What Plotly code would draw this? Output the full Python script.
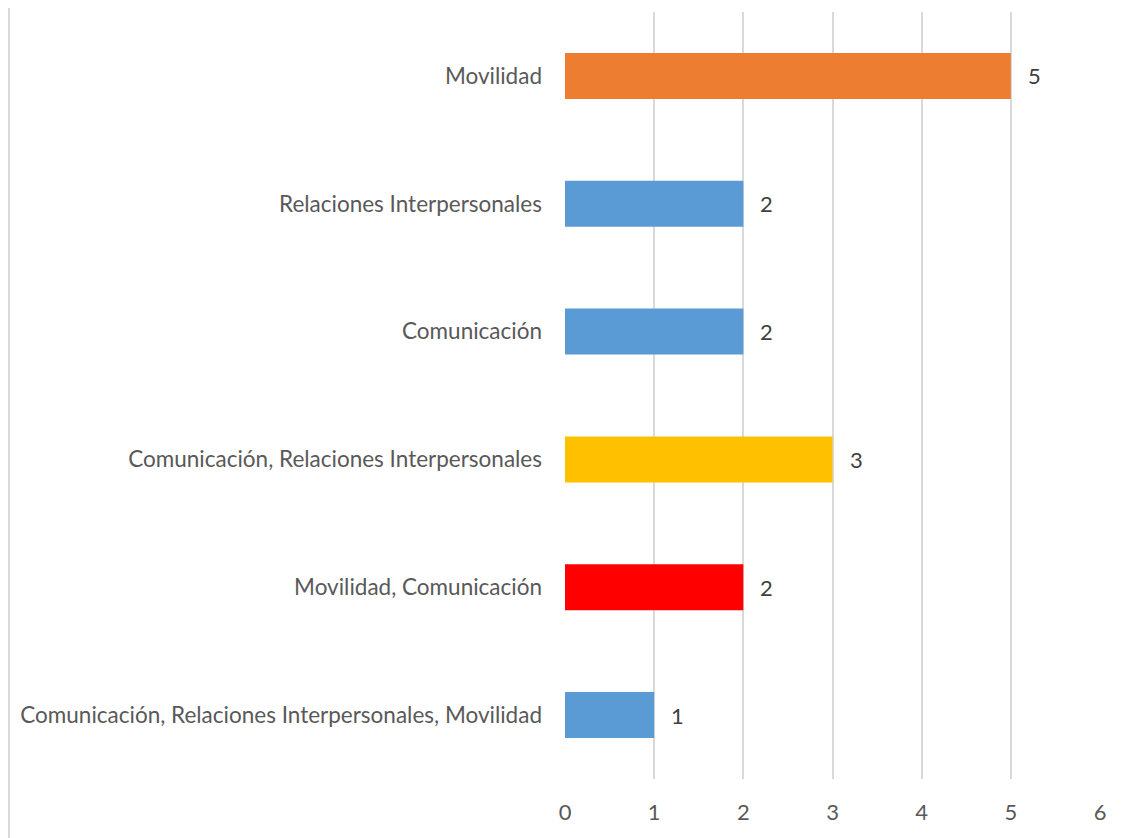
import plotly.graph_objects as go

categories = [
    "Comunicación, Relaciones Interpersonales, Movilidad",
    "Movilidad, Comunicación",
    "Comunicación, Relaciones Interpersonales",
    "Comunicación",
    "Relaciones Interpersonales",
    "Movilidad",
]
values = [1, 2, 3, 2, 2, 5]
colors = ["#5B9BD5", "#FF0000", "#FFC000", "#5B9BD5", "#5B9BD5", "#ED7D31"]
x_ticks = [0, 1, 2, 3, 4, 5, 6]

FONT = "Lato, Open Sans, sans-serif"

fig = go.Figure()
fig.add_trace(go.Bar(
    x=values, y=categories, orientation="h",
    marker=dict(color=colors, line=dict(width=0)),
    hoverinfo="skip",
))

for c, v in zip(categories, values):
    fig.add_annotation(x=v, y=c, text=str(v), showarrow=False,
                       xanchor="left", xshift=15,
                       font=dict(family=FONT, size=22, color="#404040"))

# chart-area frame edge on the left
fig.add_shape(type="line", xref="paper", yref="paper",
              x0=-1.0393, x1=-1.0393, y0=-0.08, y1=1.01,
              line=dict(color="#d9d9d9", width=2))

fig.update_layout(
    width=1122, height=830,
    margin=dict(l=557, r=30, t=4, b=59),
    paper_bgcolor="white", plot_bgcolor="white",
    bargap=0.64, showlegend=False,
    font=dict(family=FONT, size=22, color="#595959"),
)
fig.update_xaxes(range=[0, 6], tickvals=x_ticks, showgrid=True, gridcolor="#d9d9d9",
                 gridwidth=1.5, zeroline=False, showline=False, ticks="",
                 ticklabelstandoff=18)
fig.update_yaxes(categoryorder="array", categoryarray=categories, showgrid=False,
                 zeroline=False, showline=False, ticks="", ticklabelstandoff=22,
                 tickfont=dict(size=22.5))

fig.write_html("out.html")
